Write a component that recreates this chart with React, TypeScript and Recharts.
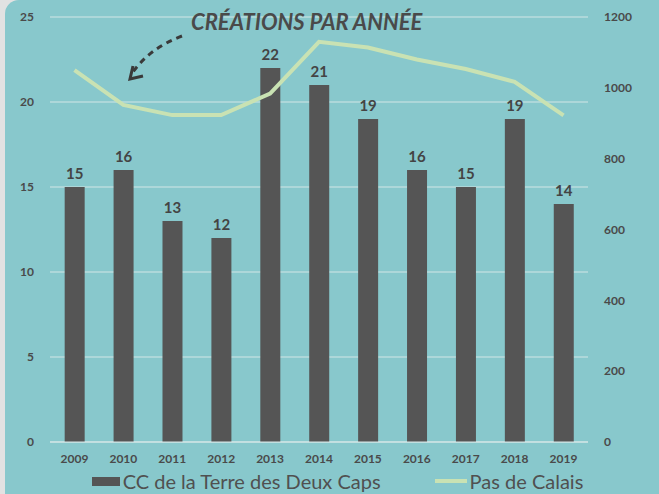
import React from 'react';
import { ComposedChart, Bar, Line, XAxis, YAxis, CartesianGrid, Legend, LabelList } from 'recharts';

const years = ['2009', '2010', '2011', '2012', '2013', '2014', '2015', '2016', '2017', '2018', '2019'];
const ccValues = [15, 16, 13, 12, 22, 21, 19, 16, 15, 19, 14];
const pdcValues = [1050, 952, 923, 923, 984, 1130, 1114, 1080, 1053, 1017, 922];
const leftTicks = [0, 5, 10, 15, 20, 25];
const rightTicks = [0, 200, 400, 600, 800, 1000, 1200];

const data = years.map((y, i) => ({ year: y, cc: ccValues[i], pdc: pdcValues[i] }));

const FONT = 'Lato, "Open Sans", sans-serif';
const TXT = '#4a4a4a';

const legendContent = () => (
  <div style={{ display: 'flex', justifyContent: 'center', alignItems: 'center', fontFamily: FONT, fontSize: 20, color: '#505050', height: 26, paddingLeft: 16 }}>
    <span style={{ display: 'inline-block', width: 28, height: 9, background: '#555555', marginRight: 3 }} />
    <span>CC de la Terre des Deux Caps</span>
    <span style={{ display: 'inline-block', width: 32, height: 4, background: '#c9e2b3', marginLeft: 54, marginRight: 3 }} />
    <span>Pas de Calais</span>
  </div>
);

export default function App() {
  return (
    <div style={{ position: 'absolute', left: 0, top: 0, width: 659, height: 494, background: '#e2e2e2', overflow: 'hidden' }}>
      <div style={{ position: 'absolute', left: 5, top: 0, width: 660, height: 500, background: '#88c8cc', borderTopLeftRadius: 14 }} />
      <div style={{ position: 'absolute', left: 0, top: 0 }}>
        <ComposedChart width={659} height={494} data={data} margin={{ top: 17, right: 0, left: 0, bottom: 0 }} barCategoryGap="30%">
          <CartesianGrid vertical={false} stroke="#d2e6e6" strokeWidth={1} yAxisId="left" />
          <XAxis dataKey="year" axisLine={{ stroke: '#d8e8e8' }} tickLine={false} height={26}
            tick={{ fill: TXT, fontSize: 12, fontWeight: 700, fontFamily: FONT }} tickMargin={6} />
          <YAxis yAxisId="left" orientation="left" domain={[0, 25]} ticks={leftTicks} width={50}
            axisLine={false} tickLine={false} tickMargin={10}
            tick={{ fill: TXT, fontSize: 12, fontWeight: 700, fontFamily: FONT }} />
          <YAxis yAxisId="right" orientation="right" domain={[0, 1200]} ticks={rightTicks} width={71}
            axisLine={false} tickLine={false} tickMargin={10}
            tick={{ fill: TXT, fontSize: 12, fontWeight: 700, fontFamily: FONT }} />
          <Bar yAxisId="left" dataKey="cc" name="CC de la Terre des Deux Caps" fill="#555555" isAnimationActive={false}>
            <LabelList dataKey="cc" position="top" offset={8} style={{ fill: '#444', fontSize: 15, fontWeight: 700, fontFamily: FONT }} />
          </Bar>
          <Line yAxisId="right" dataKey="pdc" name="Pas de Calais" stroke="#c9e2b3" strokeWidth={4} dot={false} type="linear" isAnimationActive={false} />
          <Legend verticalAlign="bottom" content={legendContent} />
        </ComposedChart>
      </div>
      <div style={{ position: 'absolute', left: 191, top: 8, fontFamily: FONT, fontStyle: 'italic', fontWeight: 700, fontSize: 22, color: '#4a4a4a', letterSpacing: 0 }}>
        CRÉATIONS PAR ANNÉE
      </div>
      <svg style={{ position: 'absolute', left: 0, top: 0 }} width={659} height={494}>
        <path d="M182,36 Q150,48 133,72" fill="none" stroke="#3a3a3a" strokeWidth={3} strokeDasharray="6,5" />
        <path d="M133,66 L130,79 L143,76" fill="none" stroke="#3a3a3a" strokeWidth={3} />
      </svg>
    </div>
  );
}
